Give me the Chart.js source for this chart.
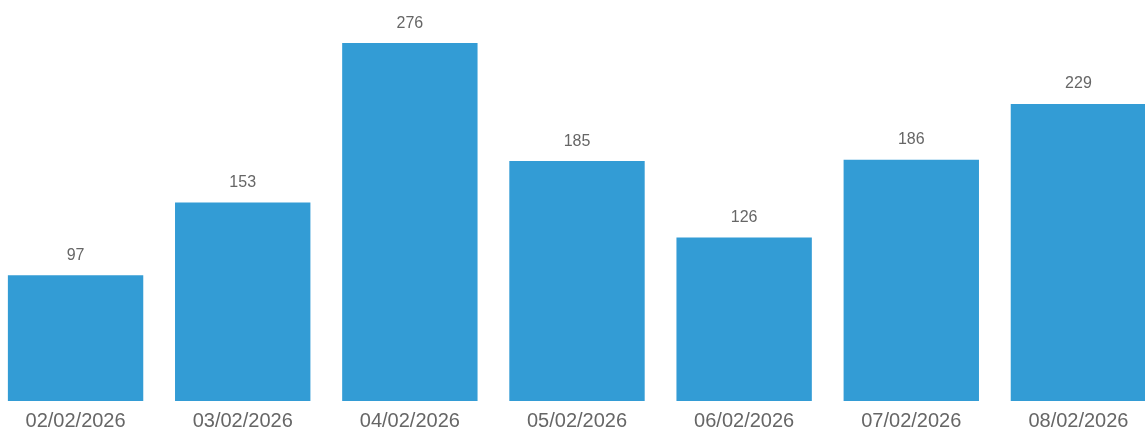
<!DOCTYPE html>
<html>
<head>
<meta charset="utf-8">
<script src="https://cdn.jsdelivr.net/npm/chart.js@4/dist/chart.umd.min.js"></script>
<style>
    html, body { margin: 0; padding: 0; background: #fff; overflow: hidden; }
    .wrap { position: relative; width: 1170px; height: 441px; margin-left: -8px; }
</style>
</head>
<body>
<div class="wrap"><canvas id="dailyChart"></canvas></div>
<script>
        const labels = ['02/02/2026', '03/02/2026', '04/02/2026', '05/02/2026', '06/02/2026', '07/02/2026', '08/02/2026'];
        const counts = [97, 153, 276, 185, 126, 186, 229];

        // value labels above each bar
        const valueLabels = {
            id: 'valueLabels',
            afterDatasetsDraw(chart) {
                const ctx = chart.ctx;
                const meta = chart.getDatasetMeta(0);
                ctx.save();
                ctx.fillStyle = '#666666';
                ctx.font = '16px "Liberation Sans", Arial, sans-serif';
                ctx.textAlign = 'center';
                ctx.textBaseline = 'middle';
                meta.data.forEach((bar, i) => {
                    ctx.fillText(counts[i], bar.x, bar.y - 20);
                });
                ctx.restore();
            }
        };

        const ctx = document.getElementById('dailyChart').getContext('2d');
        new Chart(ctx, {
            type: 'bar',
            data: {
                labels: labels,
                datasets: [{
                    data: counts,
                    backgroundColor: '#339cd5',
                    borderWidth: 0,
                    categoryPercentage: 1,
                    barPercentage: 0.81
                }]
            },
            plugins: [valueLabels],
            options: {
                responsive: true,
                maintainAspectRatio: false,
                animation: false,
                layout: {
                    padding: { top: 12, bottom: 0 }
                },
                plugins: {
                    legend: { display: false },
                    tooltip: { enabled: false }
                },
                scales: {
                    y: {
                        display: false,
                        beginAtZero: true,
                        max: 300
                    },
                    x: {
                        grid: { display: false, drawTicks: false },
                        border: { display: false },
                        ticks: {
                            color: '#666666',
                            padding: 8,
                            font: { size: 20, family: '"Liberation Sans", Arial, sans-serif' }
                        }
                    }
                }
            }
        });
</script>
</body>
</html>
